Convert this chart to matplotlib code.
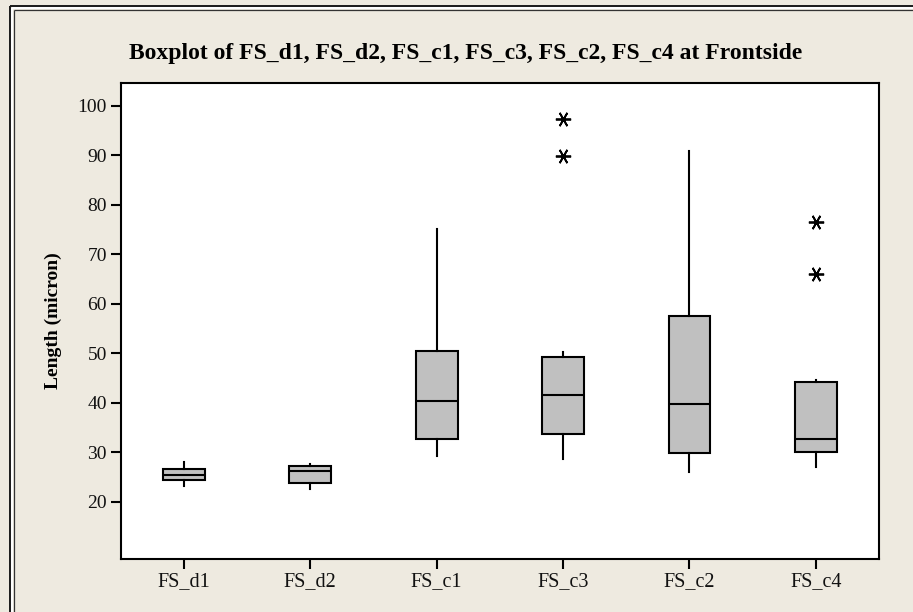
import matplotlib
matplotlib.use("Agg")
import matplotlib.pyplot as plt
from matplotlib.lines import Line2D

# Box statistics per sample (Length in micron)
labels = ["FS_d1", "FS_d2", "FS_c1", "FS_c3", "FS_c2", "FS_c4"]
whisker_low = [23.2, 22.5, 29.2, 28.6, 26.0, 27.0]
q1 = [24.3, 23.8, 32.7, 33.6, 29.8, 30.05]
medians = [25.35, 26.3, 40.3, 41.6, 39.7, 32.6]
q3 = [26.6, 27.2, 50.45, 49.2, 57.5, 44.2]
whisker_high = [28.1, 27.6, 75.0, 50.3, 90.9, 44.6]
outliers = [[], [], [], [89.8, 97.25], [], [65.95, 76.5]]
y_ticks = [20, 30, 40, 50, 60, 70, 80, 90, 100]

W, H = 913, 612
fig = plt.figure(figsize=(W / 100, H / 100), dpi=100)
fig.patch.set_facecolor("#EEEAE0")

ax = fig.add_axes([120.7 / W, 1 - 558.7 / H, (879 - 120.7) / W, (558.7 - 82.7) / H])
ax.set_facecolor("white")

stats = []
for i, lab in enumerate(labels):
    stats.append(dict(label=lab, whislo=whisker_low[i], q1=q1[i], med=medians[i],
                      q3=q3[i], whishi=whisker_high[i], fliers=outliers[i]))

ax.bxp(stats, positions=range(1, len(labels) + 1), widths=0.33, patch_artist=True,
       showcaps=False,
       boxprops=dict(facecolor="#C0C0C0", edgecolor="black", linewidth=1.5),
       medianprops=dict(color="black", linewidth=1.5),
       whiskerprops=dict(color="black", linewidth=1.5),
       flierprops=dict(marker=(6, 2, 90), markersize=11, markeredgecolor="black",
                       markerfacecolor="black", markeredgewidth=1.3, linestyle="none"))

ax.set_xlim(0.5, 6.5)
ax.set_ylim(8.5, 104.65)
ax.set_yticks(y_ticks)
ax.set_yticklabels([str(v) for v in y_ticks])

serif = "Liberation Serif"
for lbl in ax.get_xticklabels():
    lbl.set_fontfamily(serif)
    lbl.set_fontsize(14.5)
    lbl.set_color("#111111")
for lbl in ax.get_yticklabels():
    lbl.set_fontfamily(serif)
    lbl.set_fontsize(14)
    lbl.set_color("#111111")
ax.tick_params(axis="both", direction="out", length=7, width=1.5, color="black", pad=3)
for sp in ax.spines.values():
    sp.set_linewidth(1.5)
    sp.set_color("black")

ax.set_ylabel("Length (micron)", fontfamily=serif, fontsize=14, fontweight="bold", labelpad=11)
fig.text(466 / W, 1 - 53 / H, "Boxplot of FS_d1, FS_d2, FS_c1, FS_c3, FS_c2, FS_c4 at Frontside",
         ha="center", va="center", fontfamily=serif, fontsize=17, fontweight="bold")

# double frame along the left and top edges
def fx(px):
    return px / W

def fy(py):
    return 1 - py / H

for off, lw, col in [(5.5, 1.4, "#1a1a1a"), (7.5, 1.4, "white"), (9.5, 0.9, "#333333")]:
    fig.add_artist(Line2D([fx(off + 4), fx(W)], [fy(off), fy(off)], color=col, lw=lw,
                          transform=fig.transFigure, solid_capstyle="butt"))
    fig.add_artist(Line2D([fx(off + 4), fx(off + 4)], [fy(off), fy(H)], color=col, lw=lw,
                          transform=fig.transFigure, solid_capstyle="butt"))

fig.savefig("out.png", dpi=100, facecolor=fig.get_facecolor())
